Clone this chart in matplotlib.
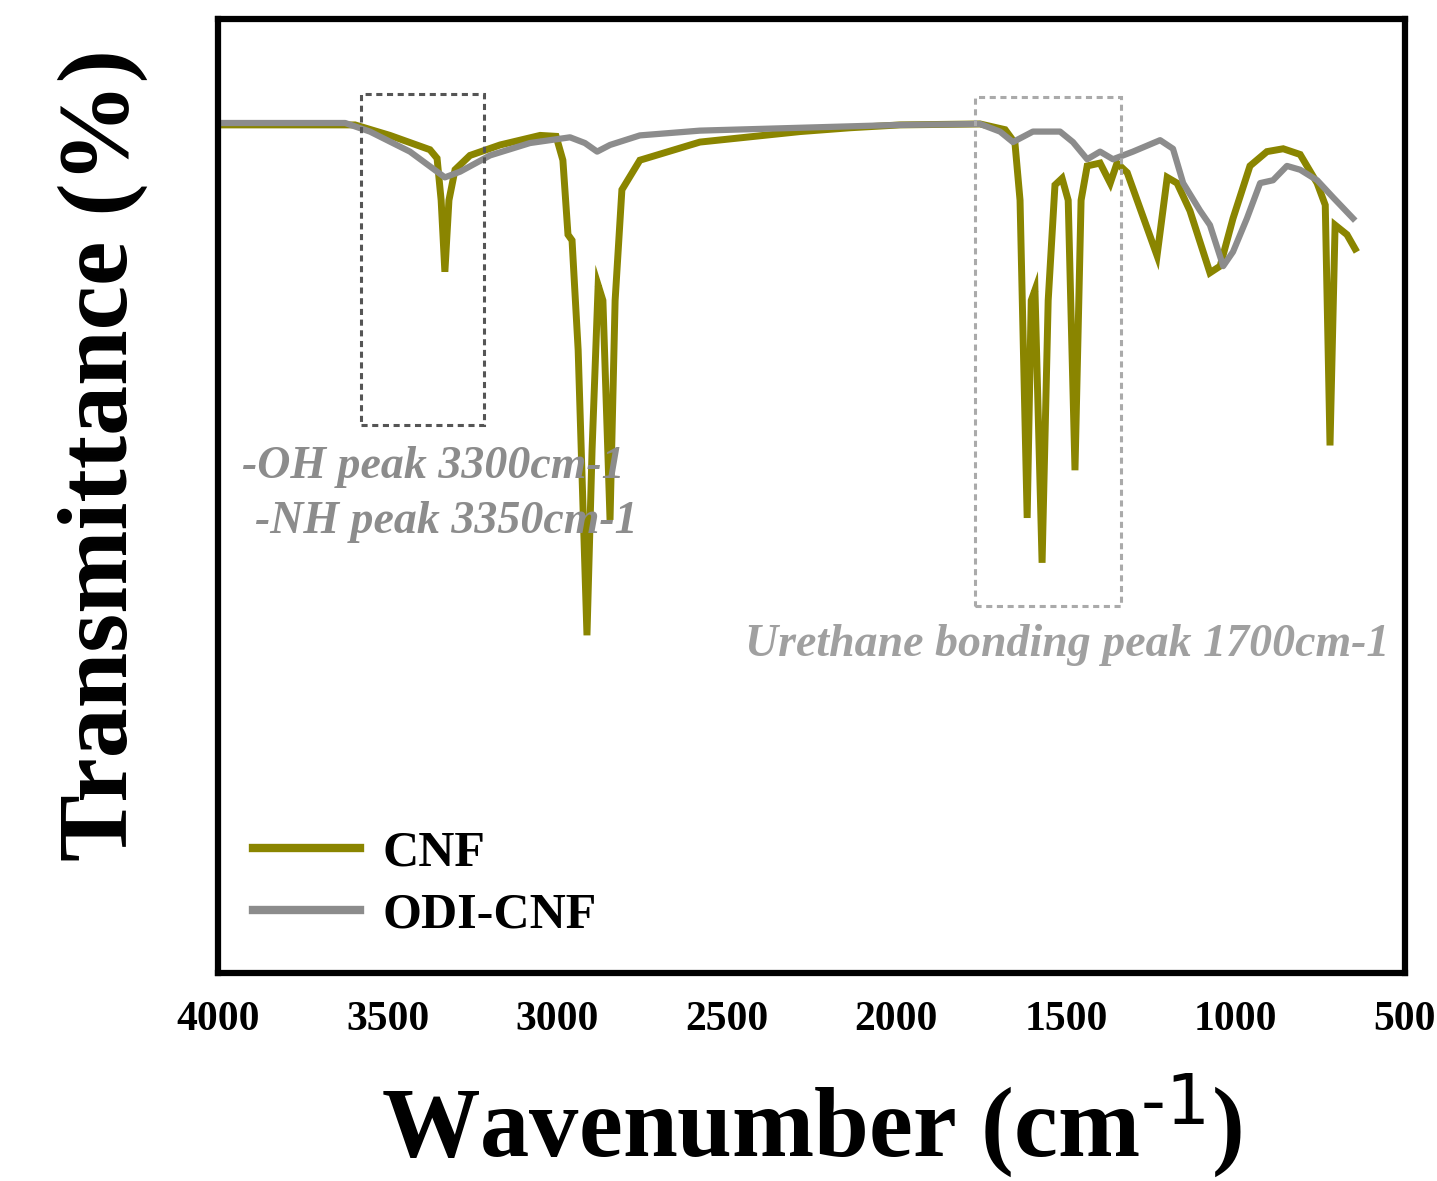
import matplotlib
matplotlib.use("Agg")
import matplotlib.pyplot as plt
from matplotlib.patches import Rectangle

plt.rcParams["font.family"] = ["Liberation Serif", "DejaVu Serif"]
plt.rcParams["mathtext.default"] = "regular"

# FTIR spectra (wavenumber cm-1, transmittance a.u.)
cnf_wn = [4000, 3596, 3493, 3375, 3354, 3342, 3331, 3319, 3301, 3257, 3168, 3050,
          3003, 2983, 2968, 2956, 2938, 2912, 2897, 2879, 2865, 2844, 2829, 2809,
          2756, 2579, 2284, 2136, 1989, 1753, 1679, 1650, 1635, 1614, 1602, 1591,
          1570, 1552, 1532, 1511, 1493, 1473, 1455, 1437, 1399, 1369, 1349, 1319,
          1231, 1201, 1172, 1134, 1075, 1045, 1007, 957, 907, 859, 809, 759, 735,
          721, 706, 671, 647]
cnf_t = [88.9, 88.9, 87.8, 86.3, 85.4, 81.0, 73.5, 81.0, 84.2, 85.7, 86.8, 87.8,
         87.7, 85.2, 77.4, 76.8, 65.3, 35.4, 54.8, 72.1, 70.5, 47.5, 70.5, 82.1,
         85.2, 87.1, 88.2, 88.6, 88.9, 89.0, 88.4, 87.0, 81.0, 47.7, 70.5, 71.6,
         43.0, 70.5, 82.6, 83.3, 81.0, 52.7, 81.0, 84.6, 84.9, 82.8, 84.9, 83.9,
         75.2, 83.4, 82.8, 79.9, 73.4, 74.1, 79.1, 84.6, 86.1, 86.4, 85.8, 82.8, 80.5,
         55.3, 78.4, 77.4, 75.9]

odi_wn = [4000, 3625, 3552, 3434, 3331, 3286, 3198, 3080, 2962, 2918, 2882, 2844,
          2756, 2579, 2284, 1989, 1753, 1694, 1656, 1597, 1517, 1479, 1437, 1399,
          1361, 1302, 1222, 1184, 1154, 1104, 1075, 1036, 1007, 966, 927, 889, 848,
          809, 759, 712, 653]
odi_t = [89.1, 89.1, 88.2, 86.1, 83.4, 84.0, 85.7, 87.0, 87.6, 87.0, 86.1, 86.8,
         87.8, 88.3, 88.6, 88.9, 89.0, 88.2, 87.1, 88.2, 88.2, 87.1, 85.3, 86.1,
         85.3, 86.1, 87.3, 86.4, 82.8, 79.9, 78.4, 74.1, 75.6, 79.1, 82.8, 83.1, 84.6,
         84.2, 83.1, 81.3, 79.1]

x_ticks = [4000, 3500, 3000, 2500, 2000, 1500, 1000, 500]

CNF_COLOR = "#8a8500"
ODI_COLOR = "#8c8c8c"

fig = plt.figure(figsize=(14.37, 11.81), dpi=100)
ax = fig.add_axes([0.1517, 0.1761, 0.826, 0.8078])

ax.plot(cnf_wn, cnf_t, color=CNF_COLOR, lw=5, label="CNF", solid_joinstyle="miter")
ax.plot(odi_wn, odi_t, color=ODI_COLOR, lw=4.5, label="ODI-CNF")

ax.set_xlim(4000, 500)
ax.set_ylim(0, 100)
ax.set_xticks(x_ticks)
ax.set_xticklabels([str(t) for t in x_ticks], fontweight="bold", fontsize=30)
ax.set_yticks([])
ax.tick_params(axis="x", length=0, pad=20)
for spine in ax.spines.values():
    spine.set_linewidth(4.5)
    spine.set_color("black")

# dashed boxes around the bands of interest
ax.add_patch(Rectangle((3578, 57.4), 3216 - 3578, 92.1 - 57.4, fill=False,
                       edgecolor="#555555", lw=2.2, ls=(0, (2, 1.5)), zorder=5))
ax.add_patch(Rectangle((1768, 38.5), 1337 - 1768, 91.8 - 38.5, fill=False,
                       edgecolor="#aaaaaa", lw=2.2, ls=(0, (2, 1.5)), zorder=5))

ax.text(3929, 53.0, "-OH peak 3300cm-1", fontsize=33, style="italic",
        fontweight="bold", color="#8c8c8c", va="center", ha="left")
ax.text(3891, 47.3, "-NH peak 3350cm-1", fontsize=33, style="italic",
        fontweight="bold", color="#8c8c8c", va="center", ha="left")
ax.text(2446, 34.4, "Urethane bonding peak 1700cm-1", fontsize=33, style="italic",
        fontweight="bold", color="#a0a0a0", va="center", ha="left")

ax.set_xlabel(r"Wavenumber (cm$^{\text{-1}}$)", fontsize=71, fontweight="bold")
ax.xaxis.set_label_coords(0.5, -0.159)
ax.xaxis.label.set_va("center")
ax.set_ylabel("Transmittance (%)", fontsize=72, fontweight="bold")
ax.yaxis.set_label_coords(-0.097, 0.543)
ax.yaxis.label.set_va("center")

leg = ax.legend(loc="lower left", bbox_to_anchor=(0.0, 0.0), frameon=False,
                prop={"weight": "bold", "size": 36}, handlelength=2.15,
                handletextpad=0.45, labelspacing=0.32, borderaxespad=0.3)
for line in leg.get_lines():
    line.set_linewidth(6)

fig.savefig("out.png", dpi=100)
